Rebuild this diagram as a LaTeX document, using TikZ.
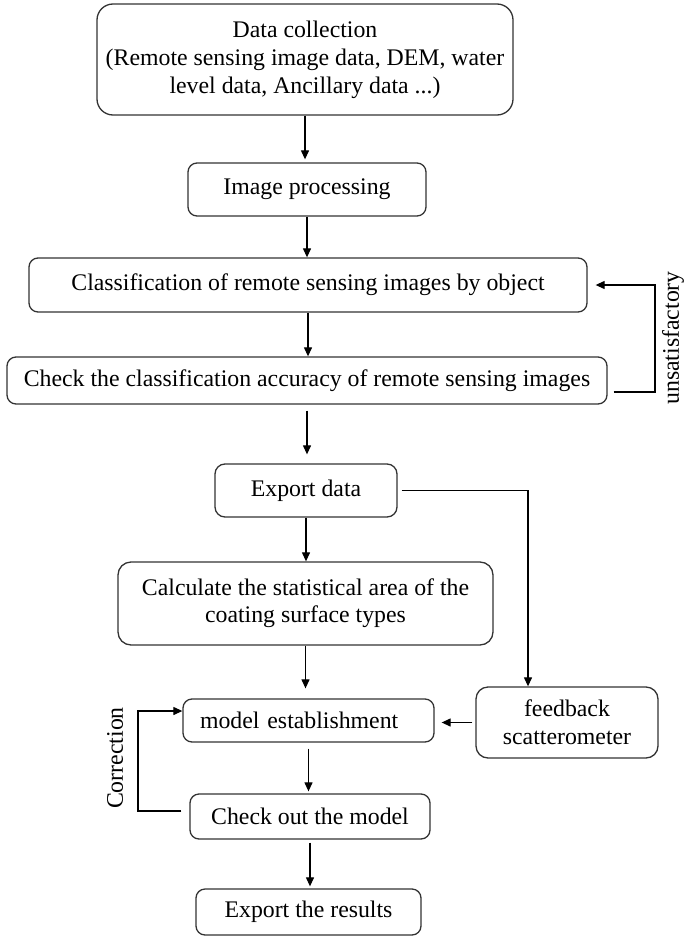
\documentclass[tikz,border=0pt]{standalone}
\usepackage{fontspec}
\setmainfont{Liberation Serif}
\usetikzlibrary{arrows.meta,calc}

\begin{document}
\begin{tikzpicture}[x=1pt, y=-1pt,
  box/.style={draw=black!80, line width=1.3pt, rounded corners=9pt,
    inner sep=0pt, align=center, font=\fontsize{23.8}{28}\selectfont},
  arr/.style={draw=black, line width=1.2pt,
    -{Triangle[length=9pt,width=8pt]}},
  lbl/.style={inner sep=0pt, rotate=90, font=\fontsize{23.8}{28}\selectfont}]

\useasboundingbox (0,0) rectangle (684,936);

% main column of process steps
\node[box, rounded corners=16pt, minimum width=416pt, minimum height=111pt] (data) at (305,59.5)
  {Data collection\\(Remote sensing image data, DEM, water\\level data, Ancillary data ...)};
\node[box, minimum width=238pt, minimum height=53pt] (img) at (307,189.5) {Image processing};
\node[box, minimum width=558pt, minimum height=54pt] (classif) at (308,285)
  {Classification of remote sensing images by object};
\node[box, minimum width=600pt, minimum height=47pt] (check) at (307,380.5)
  {Check the classification accuracy of remote sensing images};
\node[box, rounded corners=10pt, minimum width=182pt, minimum height=53pt] (export) at (306,490.5) {Export data};
\node[box, rounded corners=13pt, font=\fontsize{23.8}{27}\selectfont, minimum width=375pt, minimum height=83pt] (calc) at (305.5,603.5)
  {Calculate the statistical area of the\\coating surface types};
\node[box, align=left, text width=217pt, inner xsep=17pt, minimum height=43pt] (model) at (308.5,720.5)
  {model establishment};
\node[box, rounded corners=12pt, minimum width=182pt, minimum height=71pt] (feedback) at (567,722.5)
  {feedback\\scatterometer};
\node[box, minimum width=240pt, minimum height=45pt] (checkout) at (310,816.5) {Check out the model};
\node[box, minimum width=225pt, minimum height=46pt] (results) at (308.5,912) {Export the results};

% loop labels
\node[lbl] (unsat) at (673,338) {unsatisfactory};
\node[lbl] (corr) at (115,758) {Correction};

% bend points of the loops
\coordinate (ur) at (655,392);
\coordinate (ex) at (528,490.5);
\coordinate (cb) at (138,811);
\coordinate (ct) at (138,711);

% downward flow
\draw[arr, shorten >=3pt] (data.south) -- (data.south |- img.north);
\draw[arr] (img.south) -- (img.south |- classif.north);
\draw[arr] (classif.south) -- (classif.south |- check.north);
\draw[arr, shorten <=6pt, shorten >=9pt] (check.south) -- (check.south |- export.north);
\draw[arr] (export.south) -- (export.south |- calc.north);
\draw[arr, shorten >=10pt] (calc.south) -- (calc.south |- model.north);
\draw[arr, shorten <=6pt, shorten >=2pt] (model.south) -- (model.south |- checkout.north);
\draw[arr, shorten <=3pt, shorten >=2pt] (checkout.south) -- (checkout.south |- results.north);

% accuracy feedback loop
\draw[arr, shorten <=6pt, shorten >=8pt] (check.east |- ur) -- (ur) |- (classif.east);

% branch to the scatterometer
\draw[arr, shorten <=4pt] (export.east) -- (ex) -- (ex |- feedback.north);
\draw[arr, shorten <=3pt, shorten >=7pt] (feedback.west) -- (feedback.west -| model.east);

% correction loop
\draw[arr, shorten <=8pt] (checkout.west |- cb) -- (cb) -- (ct) -- (ct -| model.west);

\end{tikzpicture}
\end{document}
